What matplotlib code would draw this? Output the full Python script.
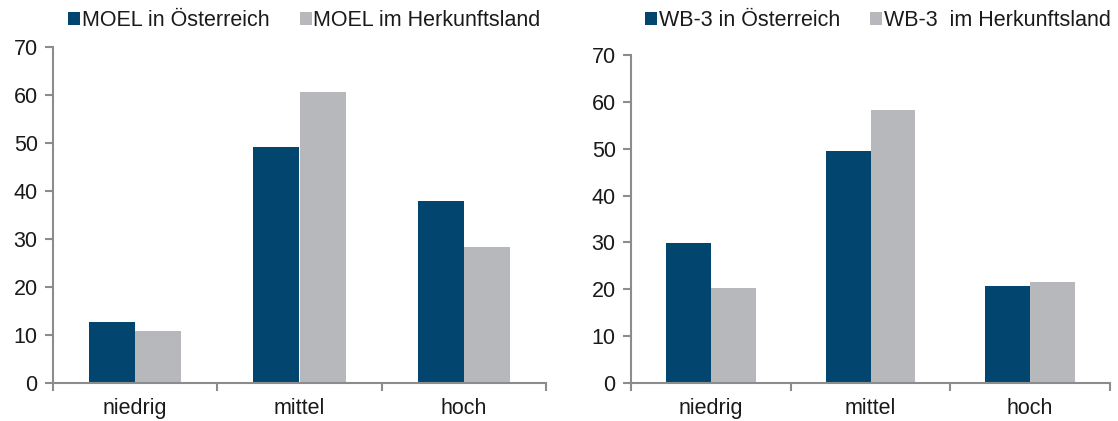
import numpy as np
import matplotlib.pyplot as plt

plt.rcParams['font.family'] = ['Liberation Sans', 'DejaVu Sans']

# Daten
kategorien = ["niedrig", "mittel", "hoch"]

moel_at = [12.7, 49.2, 37.9]
moel_herkunft = [10.8, 60.6, 28.3]

wb3_at = [29.8, 49.5, 20.7]
wb3_herkunft = [20.3, 58.2, 21.5]

labels_links = ["MOEL in Österreich", "MOEL im Herkunftsland"]
labels_rechts = ["WB-3 in Österreich", "WB-3  im Herkunftsland"]

dunkelblau = "#02466F"
grau = "#B7B8BC"
achse = "#8C8C8C"
schrift = 15.5

fig = plt.figure(figsize=(11.18, 4.21), dpi=100)
ax1 = fig.add_axes([53 / 1118, 38 / 421, 493 / 1118, 336 / 421])
ax2 = fig.add_axes([631 / 1118, 38 / 421, 479 / 1118, 328 / 421])


def balken(ax, werte1, werte2, labels, legend_x):
    x = np.arange(len(kategorien))
    b = 0.28
    ax.bar(x - b / 2, werte1, width=b, color=dunkelblau, label=labels[0])
    ax.bar(x + b / 2, werte2, width=b, color=grau, label=labels[1])
    ax.set_xlim(-0.5, 2.5)
    ax.set_ylim(0, 70)
    ax.set_yticks(range(0, 71, 10))
    ax.set_xticks(x)
    ax.set_xticklabels(kategorien)
    # Trennstriche zwischen den Kategorien
    ax.set_xticks([-0.5, 0.5, 1.5, 2.5], minor=True)
    ax.tick_params(axis='x', which='major', length=0, labelsize=schrift, pad=11,
                   labelcolor='#1a1a1a')
    ax.tick_params(axis='x', which='minor', length=6, width=1.5, color=achse)
    ax.tick_params(axis='y', length=6, width=1.5, color=achse, labelsize=schrift, pad=5,
                   labelcolor='#1a1a1a')
    for s in ['top', 'right']:
        ax.spines[s].set_visible(False)
    for s in ['left', 'bottom']:
        ax.spines[s].set_color(achse)
        ax.spines[s].set_linewidth(1.5)
    leg = ax.legend(loc='upper left', bbox_to_anchor=(legend_x, 0.992),
                    bbox_transform=fig.transFigure, ncol=2, frameon=False, fontsize=schrift,
                    handlelength=0.55, handleheight=0.55, handletextpad=0.08,
                    columnspacing=1.4, borderaxespad=0.0, borderpad=0.3)
    for t in leg.get_texts():
        t.set_color('#1a1a1a')


balken(ax1, moel_at, moel_herkunft, labels_links, 62 / 1118)
balken(ax2, wb3_at, wb3_herkunft, labels_rechts, 639 / 1118)

fig.savefig("out.png", dpi=100)
